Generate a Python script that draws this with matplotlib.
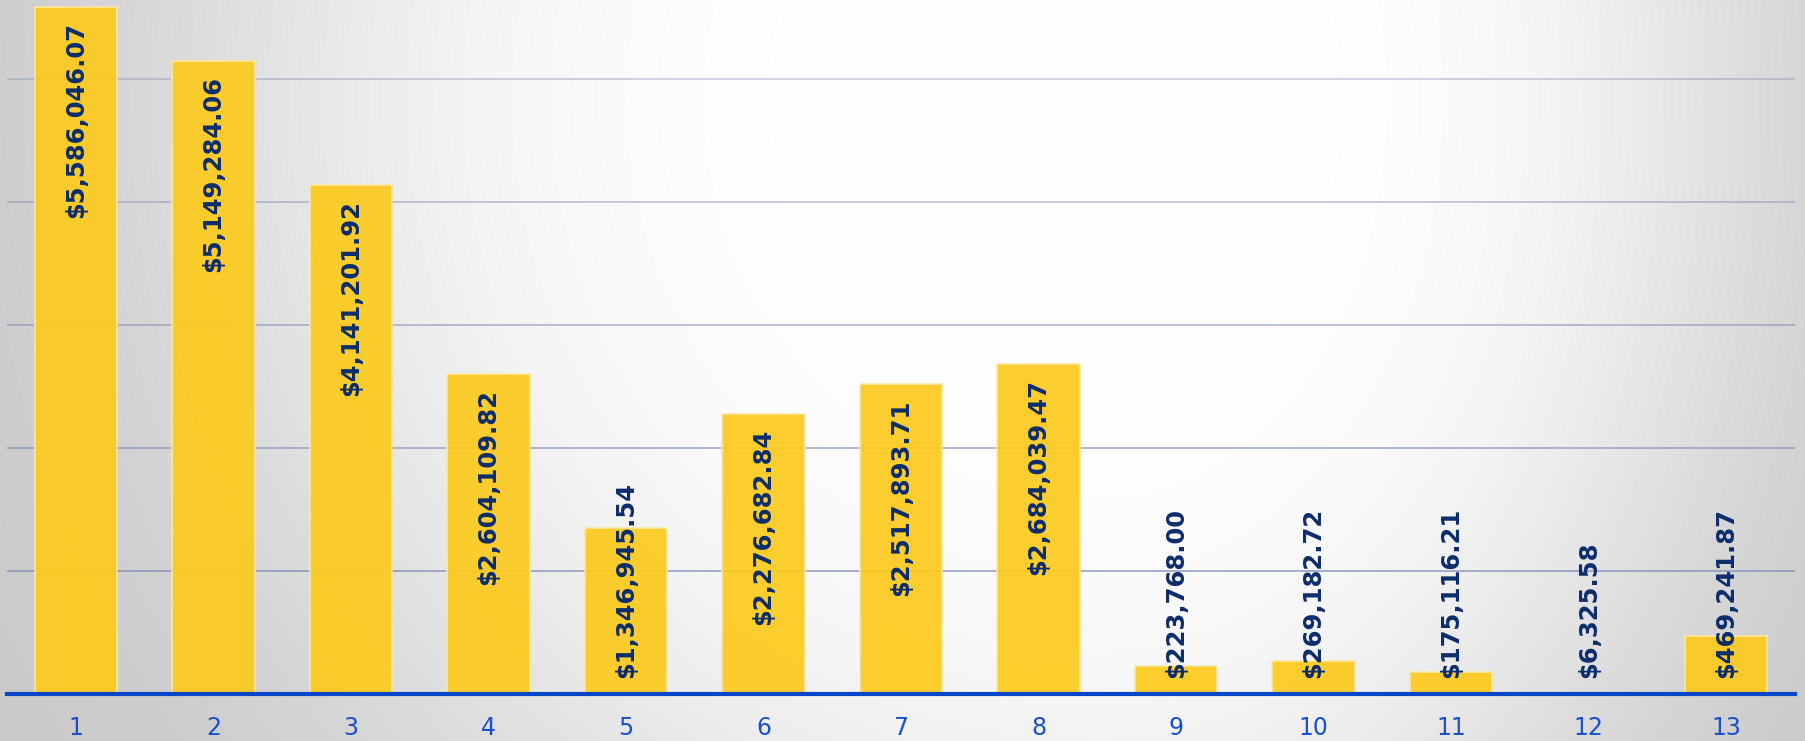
import numpy as np
import matplotlib
matplotlib.use("Agg")
import matplotlib.pyplot as plt

# data
categories = [str(i) for i in range(1, 14)]
values = [5586046.07, 5149284.06, 4141201.92, 2604109.82, 1346945.54,
          2276682.84, 2517893.71, 2684039.47, 223768.00, 269182.72,
          175116.21, 6325.58, 469241.87]
grid_values = [1e6, 2e6, 3e6, 4e6, 5e6]

W, H = 1805, 741
fig = plt.figure(figsize=(W / 100, H / 100), dpi=100)

# background: soft grey with a light glow near the top middle
bg = fig.add_axes([0, 0, 1, 1], zorder=-10)
xx, yy = np.meshgrid(np.arange(W), np.arange(H))
cx = 1100.0
u = np.where(xx < cx, (xx - cx) / 900.0, (xx - cx) / 650.0)
w = (yy - 100.0) / 900.0
r4 = (u ** 2 + w ** 2) ** 2
shade = (255 - 54 * (1 - np.exp(-r4))) / 255.0
bg.imshow(np.dstack([shade] * 3), aspect="auto", extent=[0, W, H, 0])
bg.axis("off")

ax = fig.add_axes([7 / W, 47 / H, (1795 - 7) / W, (H - 47) / H])
ax.patch.set_alpha(0)

x = np.arange(1, len(values) + 1)
ax.bar(x, values, width=0.6, color="#FCCA1E", alpha=0.93,
       edgecolor="#fbe9a8", linewidth=1.2, zorder=3)

for i, gv in enumerate(grid_values):
    ax.axhline(gv, color="#7d8cb8", alpha=0.8 - 0.09 * i, linewidth=1.2, zorder=1)

for xi, v in zip(x, values):
    txt = "${:,.2f}".format(v)
    if v > 2e6:
        ax.annotate(txt, (xi, v), xytext=(0, -15), textcoords="offset pixels",
                    rotation=90, ha="center", va="top", fontsize=17.5,
                    fontweight="bold", color="#0c2c6c", zorder=5)
    else:
        ax.annotate(txt, (xi, 0), xytext=(0, 16), textcoords="offset pixels",
                    rotation=90, ha="center", va="bottom", fontsize=17.5,
                    fontweight="bold", color="#0c2c6c", zorder=5)

ax.set_xlim(0.5, 13.5)
ax.set_ylim(0, 694 / 123 * 1e6)
ax.set_xticks(x)
ax.set_xticklabels(categories)
ax.set_yticks([])
ax.tick_params(axis="x", length=0, pad=16, labelsize=17, labelcolor="#1a4fd0")
for s in ["top", "left", "right"]:
    ax.spines[s].set_visible(False)
ax.spines["bottom"].set_color("#0a47c8")
ax.spines["bottom"].set_linewidth(3)
ax.spines["bottom"].set_zorder(6)

fig.savefig("out.png", dpi=100)
